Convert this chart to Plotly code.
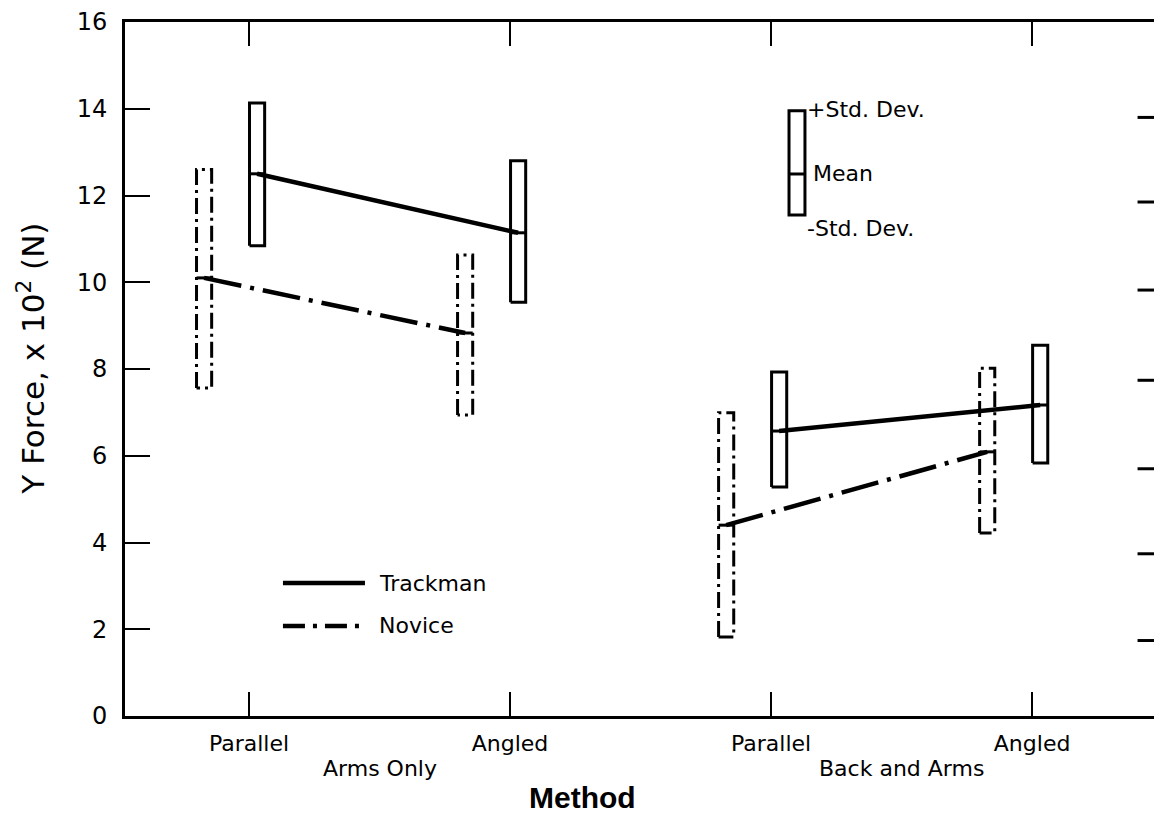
import plotly.graph_objects as go

# ---------------- data ----------------
conditions = ["Parallel", "Angled", "Parallel", "Angled"]
condition_pos = [1, 2, 3, 4]
methods = ["Arms Only", "Back and Arms"]
method_pos = [1.5, 3.5]

trackman_mean = [12.50, 11.14, 6.57, 7.17]
trackman_upper = [14.13, 12.80, 7.93, 8.55]
trackman_lower = [10.84, 9.54, 5.28, 5.83]

novice_mean = [10.10, 8.83, 4.40, 6.09]
novice_upper = [12.60, 10.63, 6.99, 8.02]
novice_lower = [7.56, 6.94, 1.82, 4.22]

y_ticks = [0, 2, 4, 6, 8, 10, 12, 14, 16]
right_ticks = [13.8, 11.85, 9.82, 7.74, 5.70, 3.74, 1.74]

# ---------------- style ----------------
FONT = "DejaVu Sans"
BLACK = "black"
TR_OFF = 0.031
NV_OFF = -0.172
HALF_W = 0.029
NOVICE_DASH = "38px,9px,4px,9px"
BOX_DASH = "16px,5px,3px,5px"

fig = go.Figure()


def box_path(xc, lo, hi):
    xl, xr = xc - HALF_W, xc + HALF_W
    return [xl, xl, xr, xr, xl], [lo, hi, hi, lo, lo]


def add_group(means, uppers, lowers, off, dash, conn_dash, name):
    for i, c in enumerate(condition_pos):
        xs, ys = box_path(c + off, lowers[i], uppers[i])
        fig.add_trace(go.Scatter(x=xs, y=ys, mode="lines",
                                 line=dict(color=BLACK, width=3, dash=dash),
                                 hoverinfo="skip", showlegend=False))
        fig.add_trace(go.Scatter(x=[c + off - HALF_W, c + off + HALF_W], y=[means[i], means[i]],
                                 mode="lines", line=dict(color=BLACK, width=3),
                                 hoverinfo="skip", showlegend=False))
    for a, b in [(0, 1), (2, 3)]:
        fig.add_trace(go.Scatter(x=[condition_pos[a] + off, condition_pos[b] + off],
                                 y=[means[a], means[b]], mode="lines",
                                 line=dict(color=BLACK, width=4.5, dash=conn_dash),
                                 name=name, showlegend=False))


add_group(trackman_mean, trackman_upper, trackman_lower, TR_OFF, "solid", "solid", "Trackman")
add_group(novice_mean, novice_upper, novice_lower, NV_OFF, BOX_DASH, NOVICE_DASH, "Novice")

# ---------------- shapes ----------------
shapes = []
for v in right_ticks:
    shapes.append(dict(type="line", xref="paper", yref="y", x0=0.984, x1=1.0, y0=v, y1=v,
                       line=dict(color=BLACK, width=3)))

LEG_Y1, LEG_Y2 = 0.1916, 0.1297
shapes.append(dict(type="line", xref="paper", yref="paper", x0=0.1535, x1=0.2332, y0=LEG_Y1, y1=LEG_Y1,
                   line=dict(color=BLACK, width=4.5)))
shapes.append(dict(type="line", xref="paper", yref="paper", x0=0.1535, x1=0.2332, y0=LEG_Y2, y1=LEG_Y2,
                   line=dict(color=BLACK, width=4.5, dash="22px,8px,4px,8px")))

kx0, kx1 = 0.6453, 0.6608
ktop, kbot, kmid = 0.872, 0.722, 0.781
shapes.append(dict(type="rect", xref="paper", yref="paper", x0=kx0, x1=kx1, y0=kbot, y1=ktop,
                   line=dict(color=BLACK, width=3)))
shapes.append(dict(type="line", xref="paper", yref="paper", x0=kx0, x1=kx1, y0=kmid, y1=kmid,
                   line=dict(color=BLACK, width=3)))

# ---------------- annotations ----------------
ann = []
for m, p in zip(methods, method_pos):
    ann.append(dict(text=m, x=p, xref="x", y=-0.075, yref="paper", showarrow=False,
                    xanchor="center", yanchor="middle", font=dict(family=FONT, size=22, color=BLACK)))
ann.append(dict(text="<b>Method</b>", x=0.445, xref="paper", y=-0.118, yref="paper", showarrow=False,
                xanchor="center", yanchor="middle",
                font=dict(family="Liberation Sans", size=30, color=BLACK)))
ann.append(dict(text="Y Force, x 10<sup>2</sup> (N)", x=-0.0913, xref="paper", y=0.515, yref="paper",
                showarrow=False, textangle=-90, xanchor="center", yanchor="middle",
                font=dict(family=FONT, size=31, color=BLACK)))
ann.append(dict(text="Trackman", x=0.2449, xref="paper", y=LEG_Y1, yref="paper", showarrow=False,
                xanchor="left", yanchor="middle", font=dict(family=FONT, size=22, color=BLACK)))
ann.append(dict(text="Novice", x=0.2449, xref="paper", y=LEG_Y2, yref="paper", showarrow=False,
                xanchor="left", yanchor="middle", font=dict(family=FONT, size=22, color=BLACK)))
ann.append(dict(text="+Std. Dev.", x=0.661, xref="paper", y=0.874, yref="paper", showarrow=False,
                xanchor="left", yanchor="middle", font=dict(family=FONT, size=22, color=BLACK)))
ann.append(dict(text="Mean", x=0.6665, xref="paper", y=0.781, yref="paper", showarrow=False,
                xanchor="left", yanchor="middle", font=dict(family=FONT, size=22, color=BLACK)))
ann.append(dict(text="-Std. Dev.", x=0.661, xref="paper", y=0.703, yref="paper", showarrow=False,
                xanchor="left", yanchor="middle", font=dict(family=FONT, size=22, color=BLACK)))

fig.update_layout(
    width=1154, height=814,
    margin=dict(l=125, r=0, t=22, b=98),
    paper_bgcolor="white", plot_bgcolor="white",
    showlegend=False,
    shapes=shapes, annotations=ann,
    xaxis=dict(range=[0.525, 4.467], tickvals=condition_pos, ticktext=conditions,
               ticks="inside", ticklen=24, tickwidth=2, tickcolor=BLACK,
               showline=True, linewidth=3, linecolor=BLACK, mirror="ticks",
               showgrid=False, zeroline=False, ticklabelstandoff=6,
               tickfont=dict(family=FONT, size=22, color=BLACK)),
    yaxis=dict(range=[0, 16], tickvals=y_ticks, ticktext=[str(v) for v in y_ticks],
               ticks="inside", ticklen=25, tickwidth=2, tickcolor=BLACK,
               showline=True, linewidth=3, linecolor=BLACK,
               showgrid=False, zeroline=False, ticklabelstandoff=10,
               tickfont=dict(family=FONT, size=24, color=BLACK)),
)

fig.write_html("out.html")
